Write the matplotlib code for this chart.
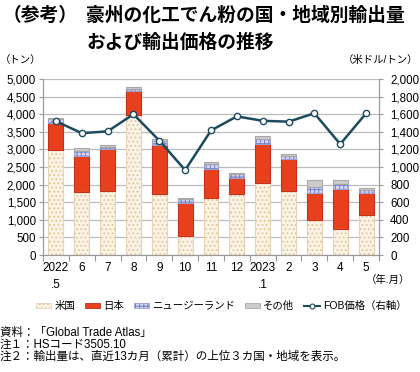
import matplotlib
matplotlib.use("Agg")
import matplotlib.pyplot as plt
from matplotlib.patches import Patch
from matplotlib.lines import Line2D
import numpy as np

plt.rcParams['font.family'] = ['Liberation Sans', 'Noto Sans CJK JP', 'DejaVu Sans']
plt.rcParams['hatch.linewidth'] = 0.8

months = ["2022\n.5", "6", "7", "8", "9", "10", "11", "12", "2023\n.1", "2", "3", "4", "5"]
us = [2980, 1790, 1820, 3970, 1730, 540, 1630, 1740, 2040, 1810, 1000, 730, 1140]
japan = [760, 1015, 1190, 690, 1395, 940, 810, 455, 1100, 930, 770, 1150, 625]
nz = [115, 160, 65, 65, 115, 105, 135, 95, 160, 65, 170, 125, 85]
other = [45, 65, 55, 40, 55, 45, 55, 30, 75, 55, 190, 115, 55]
fob = [1520, 1385, 1405, 1600, 1300, 965, 1415, 1575, 1525, 1515, 1610, 1260, 1610]

W, H = 420, 372
fig = plt.figure(figsize=(W / 100, H / 100), dpi=100)
ax_l, ax_r, ax_t, ax_b = 43, 379, 79, 255
ax = fig.add_axes([ax_l / W, 1 - ax_b / H, (ax_r - ax_l) / W, (ax_b - ax_t) / H])
ax2 = ax.twinx()

x = np.arange(len(months))
bw = 0.58
us_a = np.array(us); jp_a = np.array(japan); nz_a = np.array(nz); ot_a = np.array(other)

styles = {
    'us': dict(fc='#fbf3e4', hc='#e0c49a', hatch='....', ec='#e6d3b4'),
    'jp': dict(fc='#e8401c', hc=None, hatch=None, ec='#c4301a'),
    'nz': dict(fc='#d6daf4', hc='#7a84cc', hatch='++++', ec='#9aa0d8'),
    'ot': dict(fc='#cccccc', hc=None, hatch=None, ec='#a8a8a8'),
}

def draw(vals, bottom, st):
    ax.bar(x, vals, bw, bottom=bottom, color=st['fc'], edgecolor='none', linewidth=0, zorder=2)
    if st['hatch']:
        ax.bar(x, vals, bw, bottom=bottom, facecolor='none', edgecolor=st['hc'],
               hatch=st['hatch'], linewidth=0, zorder=3)
    ax.bar(x, vals, bw, bottom=bottom, facecolor='none', edgecolor=st['ec'], linewidth=0.8, zorder=4)

draw(us_a, 0, styles['us'])
draw(jp_a, us_a, styles['jp'])
draw(nz_a, us_a + jp_a, styles['nz'])
draw(ot_a, us_a + jp_a + nz_a, styles['ot'])

line_c = '#1d4b5e'
ax2.plot(x, fob, color=line_c, lw=1.8, marker='o', ms=4.5, mfc='white', mec=line_c, mew=1.0, zorder=5)

ax.set_xlim(-0.5, len(months) - 0.5)
ax.set_ylim(0, 5000)
ax2.set_ylim(0, 2000)
ax.set_yticks(np.arange(0, 5001, 500))
ax.set_yticklabels([f"{v:,}" for v in range(0, 5001, 500)])
ax2.set_yticks(np.arange(0, 2001, 200))
ax2.set_yticklabels([f"{v:,}" for v in range(0, 2001, 200)])
ax.yaxis.grid(True, color='#bdbdbd', lw=0.9, zorder=0)
ax.set_axisbelow(True)
ax2.set_zorder(ax.get_zorder() + 1)
ax.patch.set_visible(True)
ax2.patch.set_visible(False)

ax.set_xticks(x)
ax.set_xticklabels(months, fontsize=8.5, linespacing=1.6, va='top')
ax.tick_params(axis='x', length=0, pad=5)
ax.set_xticks(np.arange(-0.5, len(months), 1), minor=True)
ax.tick_params(axis='x', which='minor', length=4, color='#999999', width=0.8, direction='out')
for a in (ax, ax2):
    a.tick_params(axis='y', labelsize=8.3, length=3, color='#999999', width=0.8, pad=2)
    a.spines['top'].set_visible(False)
    for s in ['left', 'right', 'bottom']:
        a.spines[s].set_color('#999999')
        a.spines[s].set_linewidth(0.8)
ax2.tick_params(axis='y', pad=5)

# Title and texts
fig.text(3 / W, 1 - 15 / H, "（参考）", fontsize=13.5, fontweight='bold', va='center', ha='left',
         family=['Noto Sans CJK JP'])
fig.text(86 / W, 1 - 15 / H, "豪州の化工でん粉の国・地域別輸出量", fontsize=13.5, fontweight='bold',
         va='center', ha='left', family=['Noto Sans CJK JP'])
fig.text(86 / W, 1 - 42 / H, "および輸出価格の推移", fontsize=13.5, fontweight='bold',
         va='center', ha='left', family=['Noto Sans CJK JP'])
fig.text(0 / W, 1 - 60 / H, "（トン）", fontsize=7.5, va='center', ha='left')
fig.text(418 / W, 1 - 60 / H, "（米ドル/トン）", fontsize=7.5, va='center', ha='right')
fig.text(410 / W, 1 - 280 / H, "（年.月）", fontsize=7.5, va='center', ha='right')

handles = [
    (Patch(fc=styles['us']['fc'], ec='none'), Patch(fc='none', ec=styles['us']['hc'], hatch='....', lw=0),
     Patch(fc='none', ec=styles['us']['ec'], lw=0.6)),
    Patch(fc=styles['jp']['fc'], ec=styles['jp']['ec'], lw=0.6),
    (Patch(fc=styles['nz']['fc'], ec='none'), Patch(fc='none', ec=styles['nz']['hc'], hatch='++++', lw=0),
     Patch(fc='none', ec=styles['nz']['ec'], lw=0.6)),
    Patch(fc=styles['ot']['fc'], ec=styles['ot']['ec'], lw=0.6),
    Line2D([0], [0], color=line_c, lw=1.5, marker='o', ms=3.5, mfc='white', mec=line_c, mew=0.8),
]
labels = ["米国", "日本", "ニュージーランド", "その他", "FOB価格（右軸）"]
fig.legend(handles, labels, loc='center', bbox_to_anchor=(221 / W, 1 - 306 / H), ncol=5,
           frameon=False, fontsize=7.5, handlelength=1.5, handleheight=0.45, handletextpad=0.3,
           columnspacing=0.9, borderaxespad=0, borderpad=0)

notes = ["資料：「Global Trade Atlas」", "注１：HSコード3505.10", "注２：輸出量は、直近13カ月（累計）の上位３カ国・地域を表示。"]
for i, t in enumerate(notes):
    fig.text(0 / W, 1 - (333 + 12 * i) / H, t, fontsize=8.3, va='center', ha='left')

fig.savefig("out.png", dpi=100)
